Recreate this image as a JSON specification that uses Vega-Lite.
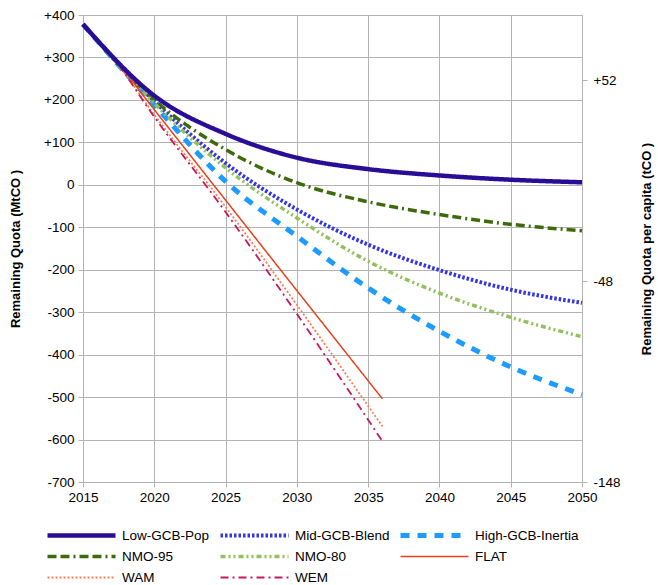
{
  "$schema": "https://vega.github.io/schema/vega-lite/v6.json",
  "width": 499,
  "height": 467,
  "autosize": {"type": "none"},
  "padding": {"left": 83, "top": 15, "right": 76, "bottom": 103},
  "config": {
    "font": "Liberation Sans",
    "view": {"stroke": null},
    "axis": {
      "labelFont": "Liberation Sans", "labelFontSize": 13.5, "labelColor": "#000",
      "titleFont": "Liberation Sans", "titleFontSize": 13, "titleFontWeight": "bold", "titleColor": "#000",
      "gridColor": "#b3b3b3", "domainColor": "#b3b3b3", "tickColor": "#b3b3b3", "tickSize": 5
    }
  },
  "datasets": {
    "quota": [
      {"series": "Low-GCB-Pop", "year": 2015, "value": 378},
      {"series": "Low-GCB-Pop", "year": 2020, "value": 210},
      {"series": "Low-GCB-Pop", "year": 2025, "value": 120},
      {"series": "Low-GCB-Pop", "year": 2030, "value": 64},
      {"series": "Low-GCB-Pop", "year": 2035, "value": 37},
      {"series": "Low-GCB-Pop", "year": 2040, "value": 22},
      {"series": "Low-GCB-Pop", "year": 2045, "value": 12},
      {"series": "Low-GCB-Pop", "year": 2050, "value": 6},
      {"series": "Mid-GCB-Blend", "year": 2015, "value": 378},
      {"series": "Mid-GCB-Blend", "year": 2020, "value": 197},
      {"series": "Mid-GCB-Blend", "year": 2025, "value": 51},
      {"series": "Mid-GCB-Blend", "year": 2030, "value": -58},
      {"series": "Mid-GCB-Blend", "year": 2035, "value": -141},
      {"series": "Mid-GCB-Blend", "year": 2040, "value": -201},
      {"series": "Mid-GCB-Blend", "year": 2045, "value": -247},
      {"series": "Mid-GCB-Blend", "year": 2050, "value": -278},
      {"series": "High-GCB-Inertia", "year": 2015, "value": 378},
      {"series": "High-GCB-Inertia", "year": 2020, "value": 188},
      {"series": "High-GCB-Inertia", "year": 2025, "value": 8},
      {"series": "High-GCB-Inertia", "year": 2030, "value": -121},
      {"series": "High-GCB-Inertia", "year": 2035, "value": -243},
      {"series": "High-GCB-Inertia", "year": 2040, "value": -345},
      {"series": "High-GCB-Inertia", "year": 2045, "value": -429},
      {"series": "High-GCB-Inertia", "year": 2050, "value": -494},
      {"series": "NMO-95", "year": 2015, "value": 378},
      {"series": "NMO-95", "year": 2020, "value": 200},
      {"series": "NMO-95", "year": 2025, "value": 83},
      {"series": "NMO-95", "year": 2030, "value": 5},
      {"series": "NMO-95", "year": 2035, "value": -40},
      {"series": "NMO-95", "year": 2040, "value": -70},
      {"series": "NMO-95", "year": 2045, "value": -93},
      {"series": "NMO-95", "year": 2050, "value": -108},
      {"series": "NMO-80", "year": 2015, "value": 378},
      {"series": "NMO-80", "year": 2020, "value": 192},
      {"series": "NMO-80", "year": 2025, "value": 40},
      {"series": "NMO-80", "year": 2030, "value": -78},
      {"series": "NMO-80", "year": 2035, "value": -180},
      {"series": "NMO-80", "year": 2040, "value": -255},
      {"series": "NMO-80", "year": 2045, "value": -312},
      {"series": "NMO-80", "year": 2050, "value": -358},
      {"series": "FLAT", "year": 2015, "value": 378},
      {"series": "FLAT", "year": 2017, "value": 305},
      {"series": "FLAT", "year": 2020, "value": 177},
      {"series": "FLAT", "year": 2025, "value": -36},
      {"series": "FLAT", "year": 2030, "value": -249},
      {"series": "FLAT", "year": 2036, "value": -504},
      {"series": "WAM", "year": 2015, "value": 378},
      {"series": "WAM", "year": 2017, "value": 304},
      {"series": "WAM", "year": 2020, "value": 165},
      {"series": "WAM", "year": 2025, "value": -52},
      {"series": "WAM", "year": 2030, "value": -283},
      {"series": "WAM", "year": 2036, "value": -569},
      {"series": "WEM", "year": 2015, "value": 378},
      {"series": "WEM", "year": 2017, "value": 304},
      {"series": "WEM", "year": 2020, "value": 160},
      {"series": "WEM", "year": 2025, "value": -64},
      {"series": "WEM", "year": 2030, "value": -304},
      {"series": "WEM", "year": 2036, "value": -604}
    ],
    "percapita": [
      {"pc": 52}, {"pc": -48}, {"pc": -148}
    ]
  },
  "layer": [
    {
      "data": {"name": "quota"},
      "encoding": {
        "x": {
          "field": "year", "type": "quantitative",
          "scale": {"domain": [2015, 2050], "nice": false, "zero": false},
          "axis": {"values": [2015, 2020, 2025, 2030, 2035, 2040, 2045, 2050], "format": "d", "title": null, "grid": true, "domain": false, "labelPadding": 3, "labelFlush": false}
        },
        "y": {
          "field": "value", "type": "quantitative",
          "scale": {"domain": [-700, 400], "nice": false, "zero": false},
          "axis": {
            "values": [400, 300, 200, 100, 0, -100, -200, -300, -400, -500, -600, -700],
            "labelExpr": "datum.value > 0 ? '+' + datum.value : '' + datum.value",
            "title": "Remaining Quota (MtCO )", "titlePadding": 21, "grid": true, "labelPadding": 4
          }
        },
        "color": {
          "field": "series", "type": "nominal", "title": null,
          "scale": {
            "domain": ["Low-GCB-Pop", "Mid-GCB-Blend", "High-GCB-Inertia", "NMO-95", "NMO-80", "FLAT", "WAM", "WEM"],
            "range": ["#2a0d96", "#3333e8", "#1e9bff", "#3d6b0c", "#92c05d", "#e8401b", "#ff7c52", "#c8175d"]
          },
          "legend": {
            "orient": "none", "legendX": -38, "legendY": 510, "columns": 3, "direction": "horizontal",
            "symbolType": "stroke", "symbolSize": 4624, "clipHeight": 21,
            "labelFont": "Liberation Sans", "labelFontSize": 13.5, "labelColor": "#000",
            "columnPadding": 8, "rowPadding": 0, "labelOffset": 4, "padding": 0, "labelLimit": 300
          }
        },
        "strokeDash": {
          "field": "series", "type": "nominal", "title": null,
          "scale": {
            "domain": ["Low-GCB-Pop", "Mid-GCB-Blend", "High-GCB-Inertia", "NMO-95", "NMO-80", "FLAT", "WAM", "WEM"],
            "range": [[1, 0], [2.5, 2], [9, 8], [9, 4, 9, 4, 2, 4], [5, 3, 2, 3, 2, 3], [1, 0], [2, 2], [8, 4, 2, 4]]
          }
        },
        "strokeWidth": {
          "field": "series", "type": "nominal", "title": null,
          "scale": {
            "type": "ordinal",
            "domain": ["Low-GCB-Pop", "Mid-GCB-Blend", "High-GCB-Inertia", "NMO-95", "NMO-80", "FLAT", "WAM", "WEM"],
            "range": [4.5, 4, 5, 3.5, 3.5, 1.5, 1.8, 1.8]
          }
        }
      },
      "layer": [
        {
          "transform": [{"filter": "datum.series !== 'Low-GCB-Pop'"}],
          "mark": {"type": "line", "interpolate": "monotone"}
        },
        {
          "transform": [{"filter": "datum.series === 'Low-GCB-Pop'"}],
          "mark": {"type": "line", "interpolate": "monotone"}
        }
      ]
    },
    {
      "data": {"name": "percapita"},
      "mark": {"type": "point", "opacity": 0},
      "encoding": {
        "y": {
          "field": "pc", "type": "quantitative",
          "scale": {"domain": [-148, 84.57], "nice": false, "zero": false},
          "axis": {
            "orient": "right", "values": [52, -48, -148],
            "labelExpr": "datum.value > 0 ? '+' + datum.value : '' + datum.value",
            "title": "Remaining Quota per capita (tCO )", "titleAngle": 270, "titlePadding": 33,
            "grid": false, "domain": false, "labelPadding": 6
          }
        }
      }
    }
  ],
  "resolve": {"scale": {"y": "independent"}}
}
